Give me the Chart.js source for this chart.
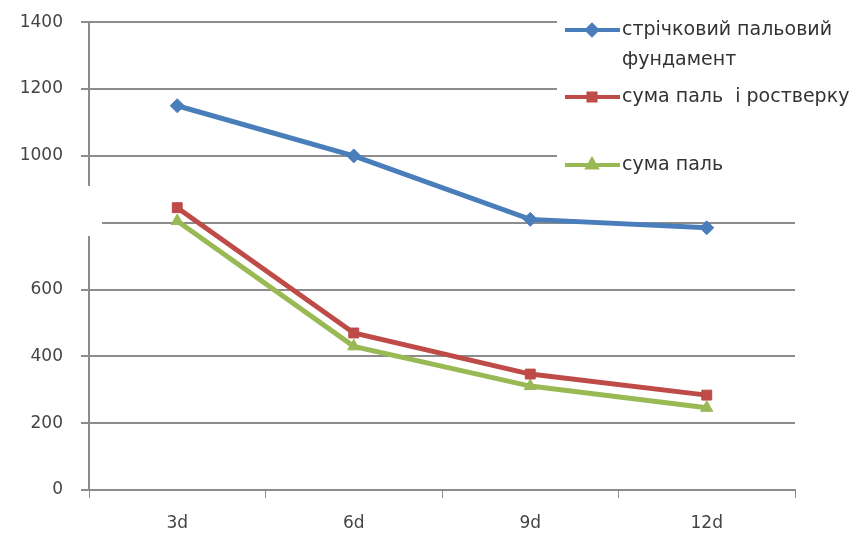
<!DOCTYPE html>
<html>
<head>
<meta charset="utf-8">
<script src="https://cdn.jsdelivr.net/npm/chart.js@4/dist/chart.umd.min.js"></script>
<style>
  body { margin: 0; background: #fff; }
</style>
</head>
<body>
<canvas id="myChart" width="864" height="535"></canvas>
<script>
// Chart data
var categories = ['3d', '6d', '9d', '12d'];
var seriesNames = ['стрічковий пальовий фундамент', 'сума паль  і ростверку', 'сума паль'];
var strip = [1150, 1000, 810, 785];
var pilesGrill = [845, 470, 347, 284];
var piles = [805, 430, 311, 246];
var yTicks = [0, 200, 400, 600, 800, 1000, 1200, 1400];

var colors = ['#4a7ebb', '#be4b48', '#98b954'];
var markers = ['rectRot', 'rect', 'triangle'];

// white patches: legend box and the cut in the axis
var coverPlugin = {
  id: 'cover',
  afterDraw: function(chart) {
    var ctx = chart.ctx;
    ctx.save();
    ctx.fillStyle = '#fff';
    ctx.fillRect(557, 0, 307, 196);
    ctx.fillRect(0, 186, 102, 50);

    // legend
    var rows = [
      { y: 30, lines: ['стрічковий пальовий', 'фундамент'] },
      { y: 97, lines: [seriesNames[1]] },
      { y: 165, lines: [seriesNames[2]] }
    ];
    ctx.font = '19px "DejaVu Sans"';
    ctx.textBaseline = 'middle';
    for (var i = 0; i < rows.length; i++) {
      var y = rows[i].y;
      ctx.strokeStyle = colors[i];
      ctx.lineWidth = 4;
      ctx.beginPath();
      ctx.moveTo(565, y);
      ctx.lineTo(620, y);
      ctx.stroke();
      Chart.helpers.drawPoint(ctx, {
        pointStyle: markers[i], radius: 5, borderWidth: 1
      }, 592, y);
      ctx.fillStyle = colors[i];
      ctx.fill();
      ctx.fillStyle = '#333';
      for (var j = 0; j < rows[i].lines.length; j++) {
        ctx.fillText(rows[i].lines[j], 622, y + j * 30);
      }
    }
    ctx.restore();
  }
};

function makeSet(label, data, i, r) {
  return {
    label: label,
    data: data,
    borderColor: colors[i],
    backgroundColor: colors[i],
    borderWidth: 5,
    pointStyle: markers[i],
    pointRadius: r,
    pointBorderWidth: 1,
    tension: 0
  };
}

var ctx = document.getElementById('myChart').getContext('2d');
var myChart = new Chart(ctx, {
  type: 'line',
  data: {
    labels: categories,
    datasets: [
      makeSet(seriesNames[0], strip, 0, 7),
      makeSet(seriesNames[1], pilesGrill, 1, 7),
      makeSet(seriesNames[2], piles, 2, 7)
    ]
  },
  plugins: [coverPlugin],
  options: {
    responsive: false,
    animation: false,
    layout: { padding: { left: 0, right: 69, top: 22, bottom: 0 } },
    plugins: {
      legend: { display: false },
      tooltip: { enabled: false }
    },
    scales: {
      x: {
        offset: true,
        afterFit: function(scale) { scale.height = 45; },
        grid: {
          offset: true,
          drawOnChartArea: false,
          tickLength: 8,
          color: '#8c8c8c'
        },
        border: { color: '#8c8c8c', width: 2 },
        ticks: {
          color: '#444',
          font: { family: 'DejaVu Sans', size: 17 },
          padding: 15
        }
      },
      y: {
        min: 0,
        max: 1400,
        afterFit: function(scale) { scale.width = 89; },
        afterBuildTicks: function(scale) {
          scale.ticks = yTicks.map(function(v) { return { value: v }; });
        },
        grid: {
          color: '#8c8c8c',
          lineWidth: 2,
          tickLength: 8
        },
        border: { color: '#8c8c8c', width: 2 },
        ticks: {
          color: '#444',
          font: { family: 'DejaVu Sans', size: 17, lineHeight: 0.5 },
          padding: 18,
          callback: function(v) { return String(v); }
        }
      }
    }
  }
});
</script>
</body>
</html>
